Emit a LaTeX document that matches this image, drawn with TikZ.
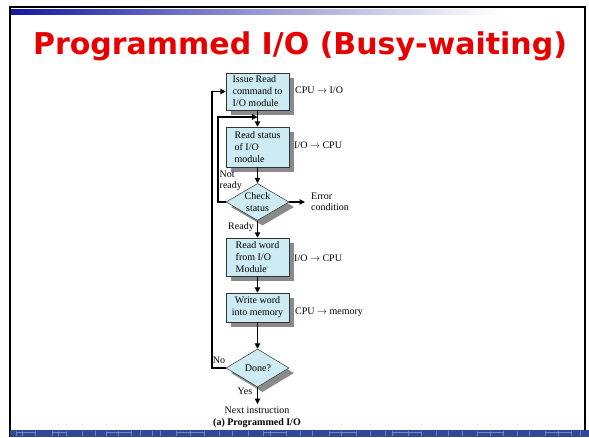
\documentclass[tikz,border=0pt]{standalone}
\usepackage{fontspec}
\setmainfont{Liberation Serif}
\newfontfamily\titlefont{DejaVu Sans}
\usetikzlibrary{shapes.geometric,shadows,arrows.meta}

\definecolor{titlered}{HTML}{E60000}
\definecolor{boxfill}{HTML}{CDEBF2}
\definecolor{shadowgray}{HTML}{8A8A8A}
\definecolor{stripblue}{HTML}{2F4995}
\definecolor{stripline}{HTML}{7585C2}
\definecolor{bardark}{HTML}{1418A0}

\tikzset{
  stepbox/.style={draw=black!80, line width=0.5pt, fill=boxfill, rectangle,
    minimum width=63pt, inner xsep=6pt, inner ysep=2pt, align=left,
    font=\fontsize{10}{12}\selectfont,
    drop shadow={shadow xshift=5pt, shadow yshift=-5pt, fill=shadowgray, opacity=1}},
  decision/.style={draw=black!80, line width=0.5pt, fill=boxfill, diamond,
    minimum width=63pt, minimum height=37pt, inner sep=0pt,
    drop shadow={shadow xshift=5pt, shadow yshift=-5pt, fill=shadowgray, opacity=1}},
  txt/.style={font=\fontsize{10}{11.5}\selectfont, inner sep=0pt, align=left},
  flow/.style={line width=1.1pt, -{Triangle[length=5.5pt,width=5.5pt]}},
}

\begin{document}
\begin{tikzpicture}[x=1pt, y=-1pt]
\useasboundingbox (0,0) rectangle (589,437);
\fill[white] (0,0) rectangle (589,437);

% slide frame and header bar
\draw[line width=2pt] (10,437) -- (10,7) -- (585,7) -- (585,437);
\shade[left color=bardark, right color=white, middle color=bardark!45!white]
  (11,9) rectangle (500,14);
\fill[white] (500,9) rectangle (584,14);

% footer strip
\fill[stripblue] (10,430) rectangle (589,437);
\foreach \x in {16,22,35,52,58,66,82,95,106,118,131,140,152,160,176,190,204,
  219,232,248,263,270,286,300,312,329,341,356,370,385,392,408,421,436,448,
  462,477,490,503,517,529,545,558,571,580}
  \draw[stripline, line width=0.5pt] (\x,431) -- (\x,436);
\foreach \a/\b in {16/35,52/66,106/131,176/204,263/286,329/356,392/421,477/503,545/571}
  \draw[stripline, line width=0.5pt] (\a,432.5) -- (\b,432.5);

% title
\node[text=titlered, font=\titlefont\bfseries\fontsize{30}{32}\selectfont,
  inner sep=0pt, anchor=base] (title) at (300,54) {Programmed I/O (Busy-waiting)};

% flowchart
\node[stepbox, minimum height=37pt] (issue) at (257.5,91.5) {Issue Read\\command to\\I/O module};
\node[stepbox, minimum height=40pt] (status) at (257.5,147) {Read status\\of I/O\\module};
\node[decision] (check) at (257.5,202) {};
\node[txt, align=center] (checktxt) at (257.5,202) {Check\\status};
\node[stepbox, minimum height=38pt] (readword) at (257.5,257) {Read word\\from I/O\\Module};
\node[stepbox, minimum height=29pt, align=center] (write) at (257.5,307.5) {Write word\\into memory};
\node[decision, minimum height=38pt] (done) at (257.5,368) {};
\node[txt] (donetxt) at (258,368) {Done?};

\coordinate (next) at (257.5,404);
\coordinate (error) at (305,202);
\coordinate (innerleft) at (218,202);
\coordinate (innertop) at (218,117);
\coordinate (innerhit) at (257.5,117);
\coordinate (outerleft) at (212,368);
\coordinate (outertop) at (212,91.5);

\draw[flow] (issue.south) -- (status.north);
\draw[flow] (status.south) -- (check.north);
\draw[flow] (check.south) -- (readword.north);
\draw[flow] (readword.south) -- (write.north);
\draw[flow] (write.south) -- (done.north);
\draw[flow] (done.south) -- (next);
\draw[flow] (check.east) -- (error);
\draw[flow] (check.west) -- (innerleft) -- (innertop) -- (innerhit);
\draw[flow] (done.west) -- (outerleft) -- (outertop) -- (issue.west);

% annotations
\node[txt, anchor=west] (a1) at (295,90) {CPU $\rightarrow$ I/O};
\node[txt, anchor=west] (a2) at (294,145) {I/O $\rightarrow$ CPU};
\node[txt, anchor=west] (a3) at (294,258) {I/O $\rightarrow$ CPU};
\node[txt, anchor=west] (a4) at (295,312) {CPU $\rightarrow$ memory};
\node[txt, anchor=west] (notready) at (219.5,181) {Not\\ready};
\node[txt, anchor=west] (errtxt) at (311,202) {Error\\condition};
\node[txt] (ready) at (241,227) {Ready};
\node[txt] (no) at (219,360) {No};
\node[txt] (yes) at (245,391) {Yes};
\node[txt] (nexttxt) at (257,410) {Next instruction};
\node[txt, font=\fontsize{10}{11.5}\selectfont\bfseries] (caption) at (257,423) {(a) Programmed I/O};
\end{tikzpicture}
\end{document}
